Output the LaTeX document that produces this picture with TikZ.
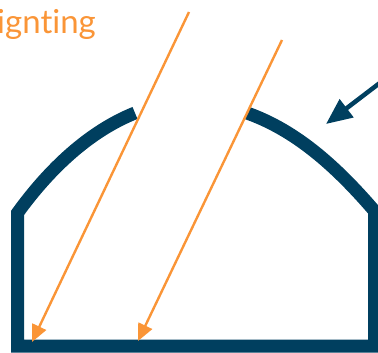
\documentclass[tikz,border=0pt]{standalone}
\usepackage{fontspec}
\setmainfont[Ligatures=NoCommon]{Lato}
\usetikzlibrary{arrows.meta}
\definecolor{wallblue}{HTML}{003F5F}
\definecolor{sunorange}{HTML}{FA9537}
\tikzset{
  wall/.style={draw=wallblue,line width=13pt,line join=miter},
  ray/.style={draw=sunorange,line width=2.4pt,-{Triangle[length=17pt,width=15pt]},shorten >=0pt},
  pointer/.style={draw=wallblue,line width=4.5pt,-{Triangle[length=26pt,width=22pt]}},
  caption/.style={text=sunorange,font=\fontsize{33}{36}\selectfont,inner sep=0pt,anchor=base east}
}
\begin{document}
\begin{tikzpicture}[x=1pt,y=-1pt]
\useasboundingbox (0,0) rectangle (378,353);
\clip (0,0) rectangle (378,353);
\node[caption] (title) at (96,34) {ignting};
\coordinate (lefttop) at (135,113);
\coordinate (leftcorner) at (17.5,213);
\coordinate (leftfoot) at (17.5,346);
\coordinate (rightfoot) at (374.5,346);
\coordinate (rightcorner) at (374.5,211);
\coordinate (righttop) at (247,113);
\draw[wall,line cap=butt] (lefttop) .. controls (90,131) and (50,168) .. (leftcorner) -- (leftfoot) -- (rightfoot) -- (rightcorner) .. controls (335,165) and (295,130) .. (righttop);
\coordinate (rayAstart) at (189,12);
\coordinate (rayAtip) at (32,342);
\coordinate (rayBstart) at (282,40);
\coordinate (rayBtip) at (138,341);
\coordinate (ptrstart) at (385,79);
\coordinate (ptrtip) at (326,124);
\draw[ray] (rayAstart) -- (rayAtip);
\draw[ray] (rayBstart) -- (rayBtip);
\draw[pointer] (ptrstart) -- (ptrtip);
\end{tikzpicture}
\end{document}
